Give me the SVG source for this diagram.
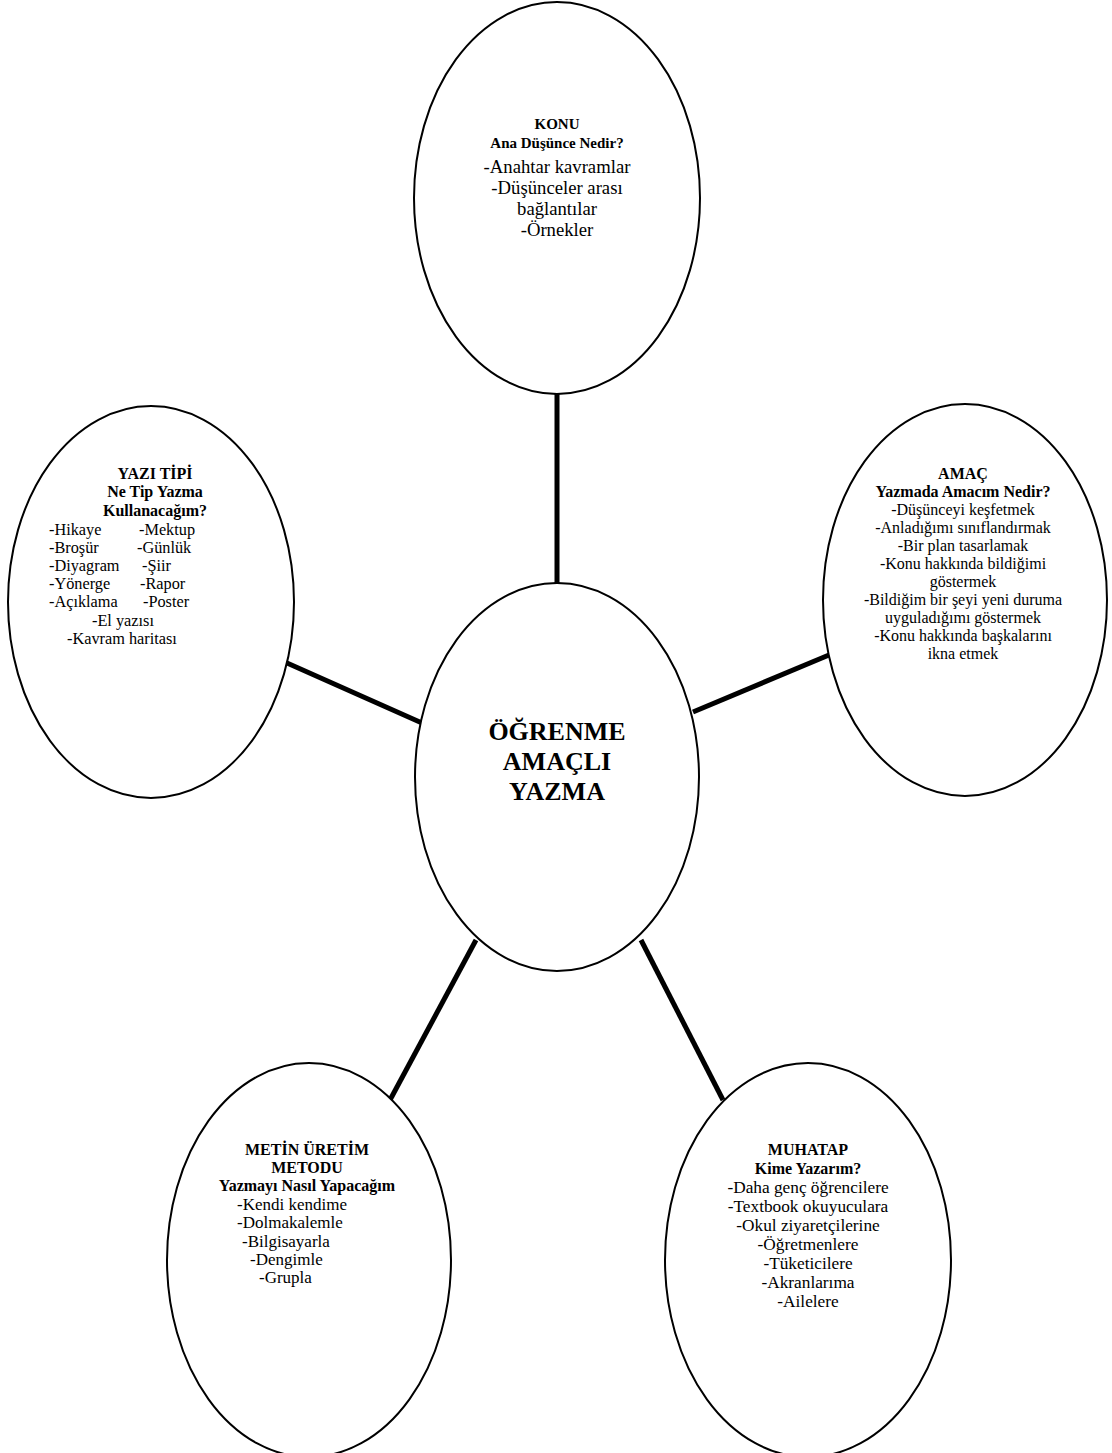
<svg xmlns="http://www.w3.org/2000/svg" width="1112" height="1453" viewBox="0 0 1112 1453">
<style>
.node ellipse{fill:#fff;stroke:#000;stroke-width:2}
.conn line{stroke:#000;stroke-width:5}
text{font-family:"Liberation Serif","Times New Roman",serif;fill:#000}
.b{font-weight:bold}
.c{text-anchor:middle}
</style>
<rect width="1112" height="1453" fill="#fff"/>
<g id="connectors" class="conn">
<line x1="557" y1="394" x2="557" y2="585"/>
<line x1="287" y1="663" x2="422" y2="723"/>
<line x1="829" y1="655" x2="693" y2="712"/>
<line x1="476" y1="940" x2="390" y2="1100"/>
<line x1="641" y1="940" x2="723" y2="1100"/>
</g>
<g id="konu" class="node">
<ellipse cx="557" cy="198" rx="143" ry="196"/>
<text class="b c" font-size="15" x="557" y="129">KONU</text>
<text class="b c" font-size="15" x="557" y="148">Ana Düşünce Nedir?</text>
<text class="c" font-size="18.7" x="557" y="173">-Anahtar kavramlar</text>
<text class="c" font-size="18.7" x="557" y="194">-Düşünceler arası</text>
<text class="c" font-size="18.7" x="557" y="215">bağlantılar</text>
<text class="c" font-size="18.7" x="557" y="236">-Örnekler</text>
</g>
<g id="yazi-tipi" class="node">
<ellipse cx="151" cy="602" rx="143" ry="196"/>
<text class="b c" font-size="16" x="155" y="479">YAZI TİPİ</text>
<text class="b c" font-size="16" x="155" y="497">Ne Tip Yazma</text>
<text class="b c" font-size="16" x="155" y="516">Kullanacağım?</text>
<g font-size="16.3">
<text x="49" y="535">-Hikaye</text><text x="139" y="535">-Mektup</text>
<text x="49" y="553">-Broşür</text><text x="137" y="553">-Günlük</text>
<text x="49" y="571">-Diyagram</text><text x="142" y="571">-Şiir</text>
<text x="49" y="589">-Yönerge</text><text x="140" y="589">-Rapor</text>
<text x="49" y="607">-Açıklama</text><text x="143" y="607">-Poster</text>
<text x="92" y="626">-El yazısı</text>
<text x="67" y="644">-Kavram haritası</text>
</g>
</g>
<g id="amac" class="node">
<ellipse cx="965" cy="600" rx="142" ry="196"/>
<text class="b c" font-size="16" x="963" y="479">AMAÇ</text>
<text class="b c" font-size="16" x="963" y="497">Yazmada Amacım Nedir?</text>
<g class="c" font-size="16">
<text x="963" y="515">-Düşünceyi keşfetmek</text>
<text x="963" y="533">-Anladığımı sınıflandırmak</text>
<text x="963" y="551">-Bir plan tasarlamak</text>
<text x="963" y="569">-Konu hakkında bildiğimi</text>
<text x="963" y="587">göstermek</text>
<text x="963" y="605">-Bildiğim bir şeyi yeni duruma</text>
<text x="963" y="623">uyguladığımı göstermek</text>
<text x="963" y="641">-Konu hakkında başkalarını</text>
<text x="963" y="659">ikna etmek</text>
</g>
</g>
<g id="merkez" class="node">
<ellipse cx="557" cy="777" rx="142" ry="194"/>
<text class="b c" font-size="26" x="557" y="740">ÖĞRENME</text>
<text class="b c" font-size="26" x="557" y="770">AMAÇLI</text>
<text class="b c" font-size="26" x="557" y="800">YAZMA</text>
</g>
<g id="metin-uretim" class="node">
<ellipse cx="309" cy="1260" rx="142" ry="197"/>
<text class="b c" font-size="16" x="307" y="1155">METİN ÜRETİM</text>
<text class="b c" font-size="16" x="307" y="1173">METODU</text>
<text class="b c" font-size="16" x="307" y="1191">Yazmayı Nasıl Yapacağım</text>
<g font-size="17">
<text x="237" y="1210">-Kendi kendime</text>
<text x="237" y="1228">-Dolmakalemle</text>
<text x="242" y="1247">-Bilgisayarla</text>
<text x="250" y="1265">-Dengimle</text>
<text x="259" y="1283">-Grupla</text>
</g>
</g>
<g id="muhatap" class="node">
<ellipse cx="808" cy="1260" rx="143" ry="197"/>
<text class="b c" font-size="16" x="808" y="1155">MUHATAP</text>
<text class="b c" font-size="16" x="808" y="1174">Kime Yazarım?</text>
<g class="c" font-size="17.3">
<text x="808" y="1193">-Daha genç öğrencilere</text>
<text x="808" y="1212">-Textbook okuyuculara</text>
<text x="808" y="1231">-Okul ziyaretçilerine</text>
<text x="808" y="1250">-Öğretmenlere</text>
<text x="808" y="1269">-Tüketicilere</text>
<text x="808" y="1288">-Akranlarıma</text>
<text x="808" y="1307">-Ailelere</text>
</g>
</g>
</svg>
